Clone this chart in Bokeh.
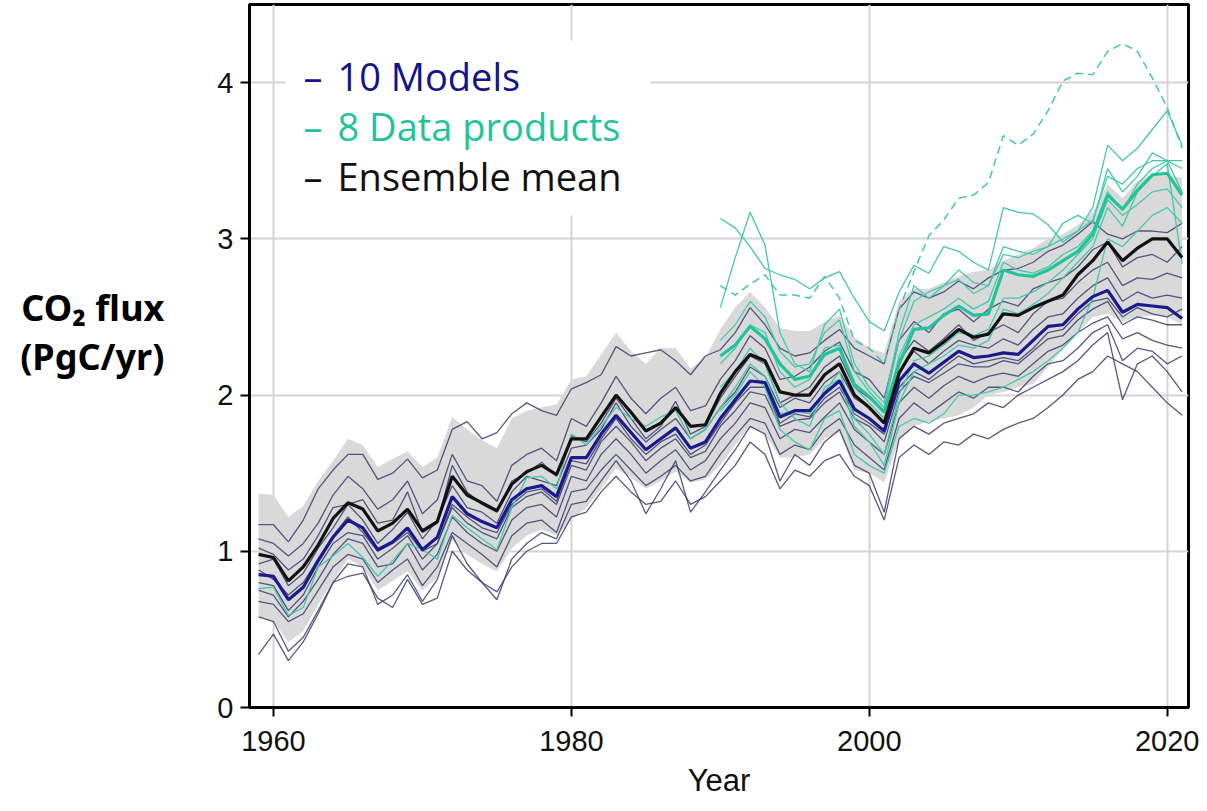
from bokeh.plotting import figure
from bokeh.models import Range1d, FixedTicker, Label, BoxAnnotation, Axis
from bokeh.embed import file_html
from bokeh.resources import INLINE

# ---------------------------------------------------------------- data
years = list(range(1959, 2022))
dp_years = list(range(1990, 2022))

ensemble_mean = [
    0.98, 0.96, 0.81, 0.90, 1.04, 1.21, 1.31, 1.27, 1.13, 1.18, 1.27,
    1.13, 1.19, 1.48, 1.36, 1.31, 1.26, 1.43, 1.51, 1.55, 1.49,
    1.72, 1.72, 1.86, 2.00, 1.89, 1.77, 1.82, 1.92, 1.80, 1.81,
    2.01, 2.15, 2.26, 2.22, 2.02, 2.00, 2.00, 2.13, 2.20, 2.00,
    1.92, 1.82, 2.14, 2.30, 2.27, 2.34, 2.42, 2.37, 2.39, 2.52,
    2.51, 2.56, 2.60, 2.64, 2.77, 2.86, 2.98, 2.86, 2.94, 3.00,
    3.00, 2.88,
]

model_mean = [
    0.85, 0.84, 0.69, 0.77, 0.94, 1.09, 1.20, 1.15, 1.01, 1.06, 1.15,
    1.01, 1.09, 1.35, 1.24, 1.19, 1.15, 1.33, 1.40, 1.42, 1.35,
    1.60, 1.60, 1.75, 1.87, 1.76, 1.65, 1.72, 1.79, 1.66, 1.70,
    1.85, 1.97, 2.09, 2.08, 1.86, 1.90, 1.90, 2.01, 2.09, 1.91,
    1.85, 1.77, 2.09, 2.20, 2.14, 2.21, 2.28, 2.24, 2.25, 2.27,
    2.26, 2.35, 2.44, 2.45, 2.55, 2.63, 2.67, 2.53, 2.58, 2.57,
    2.56, 2.49,
]

data_mean = [
    2.25, 2.32, 2.44, 2.36, 2.20, 2.10, 2.12, 2.26, 2.30, 2.07,
    1.99, 1.89, 2.20, 2.42, 2.43, 2.51, 2.57, 2.51, 2.52, 2.80,
    2.77, 2.76, 2.80, 2.86, 2.92, 3.03, 3.28, 3.19, 3.31, 3.41,
    3.42, 3.28,
]

spread_upper = [
    1.37, 1.36, 1.22, 1.29, 1.45, 1.58, 1.72, 1.68, 1.54, 1.59, 1.64,
    1.54, 1.60, 1.86, 1.78, 1.71, 1.66, 1.85, 1.90, 1.92, 1.94,
    2.10, 2.12, 2.26, 2.40, 2.28, 2.20, 2.30, 2.30, 2.17, 2.24,
    2.42, 2.56, 2.66, 2.56, 2.43, 2.41, 2.41, 2.47, 2.51, 2.37,
    2.30, 2.27, 2.60, 2.68, 2.68, 2.72, 2.76, 2.79, 2.80, 2.86,
    2.90, 2.94, 3.00, 3.03, 3.09, 3.17, 3.35, 3.26, 3.37, 3.41,
    3.41, 3.39,
]

spread_lower = [
    0.58, 0.55, 0.42, 0.49, 0.66, 0.81, 0.95, 0.90, 0.75, 0.81, 0.87,
    0.75, 0.83, 1.07, 0.98, 0.92, 0.87, 1.02, 1.10, 1.14, 1.10,
    1.20, 1.28, 1.40, 1.53, 1.47, 1.40, 1.45, 1.51, 1.44, 1.46,
    1.55, 1.68, 1.80, 1.75, 1.60, 1.60, 1.62, 1.72, 1.76, 1.52,
    1.50, 1.44, 1.71, 1.80, 1.83, 1.85, 1.87, 1.92, 2.00, 2.02,
    2.05, 2.07, 2.18, 2.30, 2.40, 2.50, 2.52, 2.47, 2.50, 2.51,
    2.50, 2.45,
]

# ten ocean biogeochemistry models, 1959-2021
model_1 = [
    1.17, 1.17, 1.06, 1.20, 1.40, 1.52, 1.62, 1.62, 1.46, 1.50, 1.59,
    1.47, 1.52, 1.78, 1.83, 1.72, 1.76, 1.88, 1.95, 1.90, 1.87,
    2.04, 2.08, 2.13, 2.31, 2.25, 2.27, 2.29, 2.22, 2.13, 2.25,
    2.29, 2.40, 2.56, 2.45, 2.30, 2.25, 2.27, 2.35, 2.42, 2.30,
    2.25, 2.20, 2.55, 2.66, 2.62, 2.66, 2.73, 2.68, 2.75, 2.80,
    2.81, 2.85, 2.92, 2.96, 3.03, 3.11, 3.03, 3.00, 3.05, 3.05,
    3.04, 3.10,
]
model_2 = [
    1.08, 1.05, 0.97, 1.05, 1.18, 1.36, 1.48, 1.40, 1.27, 1.33, 1.45,
    1.24, 1.33, 1.62, 1.45, 1.42, 1.32, 1.55, 1.62, 1.66, 1.58,
    1.85, 1.80, 1.95, 2.12, 1.98, 1.88, 1.98, 2.05, 1.90, 1.93,
    2.10, 2.22, 2.38, 2.30, 2.10, 2.12, 2.18, 2.28, 2.34, 2.15,
    2.10, 1.98, 2.35, 2.47, 2.40, 2.52, 2.55, 2.47, 2.55, 2.60,
    2.57, 2.68, 2.72, 2.75, 2.82, 2.93, 2.98, 2.82, 2.88, 2.90,
    2.85, 2.95,
]
model_3 = [
    1.02, 0.98, 0.88, 0.95, 1.10, 1.28, 1.30, 1.33, 1.18, 1.20, 1.38,
    1.12, 1.18, 1.55, 1.38, 1.30, 1.25, 1.45, 1.50, 1.57, 1.48,
    1.74, 1.70, 1.82, 1.98, 1.85, 1.72, 1.80, 1.96, 1.75, 1.80,
    1.98, 2.12, 2.25, 2.20, 1.95, 2.00, 2.05, 2.18, 2.25, 2.05,
    1.98, 1.90, 2.22, 2.35, 2.28, 2.36, 2.45, 2.35, 2.40, 2.45,
    2.40, 2.52, 2.60, 2.62, 2.72, 2.80, 2.85, 2.70, 2.75, 2.74,
    2.78, 2.75,
]
model_4 = [
    0.92, 0.95, 0.78, 0.86, 1.02, 1.15, 1.30, 1.20, 1.05, 1.14, 1.25,
    1.08, 1.20, 1.42, 1.28, 1.25, 1.18, 1.38, 1.48, 1.45, 1.42,
    1.66, 1.68, 1.78, 1.95, 1.80, 1.70, 1.78, 1.85, 1.72, 1.78,
    1.92, 2.02, 2.18, 2.12, 1.92, 1.98, 1.95, 2.08, 2.15, 1.98,
    1.92, 1.82, 2.15, 2.28, 2.20, 2.28, 2.35, 2.32, 2.30, 2.36,
    2.32, 2.42, 2.50, 2.52, 2.62, 2.70, 2.75, 2.60, 2.66, 2.62,
    2.64, 2.62,
]
model_5 = [
    0.88, 0.82, 0.72, 0.80, 0.95, 1.10, 1.22, 1.12, 1.00, 1.05, 1.12,
    1.00, 1.05, 1.30, 1.22, 1.15, 1.12, 1.30, 1.38, 1.40, 1.32,
    1.58, 1.56, 1.72, 1.85, 1.72, 1.62, 1.70, 1.75, 1.62, 1.68,
    1.82, 1.95, 2.05, 2.05, 1.82, 1.88, 1.86, 1.98, 2.05, 1.88,
    1.82, 1.75, 2.05, 2.15, 2.10, 2.18, 2.25, 2.20, 2.22, 2.24,
    2.22, 2.30, 2.40, 2.42, 2.52, 2.60, 2.62, 2.50, 2.56, 2.52,
    2.50, 2.55,
]
model_6 = [
    0.80, 0.78, 0.62, 0.72, 0.90, 1.05, 1.12, 1.10, 0.95, 1.02, 1.10,
    0.95, 1.05, 1.28, 1.18, 1.12, 1.08, 1.28, 1.35, 1.38, 1.30,
    1.55, 1.52, 1.70, 1.80, 1.70, 1.58, 1.66, 1.72, 1.60, 1.64,
    1.80, 1.90, 2.02, 2.00, 1.80, 1.84, 1.85, 1.95, 2.02, 1.85,
    1.80, 1.70, 2.02, 2.12, 2.08, 2.14, 2.20, 2.18, 2.18, 2.22,
    2.20, 2.28, 2.36, 2.38, 2.48, 2.55, 2.60, 2.45, 2.50, 2.48,
    2.45, 2.45,
]
model_7 = [
    0.75, 0.72, 0.58, 0.68, 0.82, 0.98, 1.08, 1.05, 0.90, 0.92, 1.05,
    0.88, 0.98, 1.22, 1.12, 1.05, 1.00, 1.20, 1.28, 1.30, 1.22,
    1.48, 1.45, 1.62, 1.72, 1.62, 1.50, 1.58, 1.65, 1.52, 1.58,
    1.72, 1.82, 1.95, 1.92, 1.72, 1.78, 1.76, 1.86, 1.95, 1.78,
    1.70, 1.62, 1.95, 2.05, 1.98, 2.06, 2.12, 2.08, 2.12, 2.14,
    2.12, 2.20, 2.28, 2.32, 2.40, 2.46, 2.50, 2.36, 2.40, 2.35,
    2.32, 2.30,
]
model_8 = [
    0.68, 0.66, 0.55, 0.60, 0.75, 0.90, 0.98, 0.95, 0.80, 0.88, 0.95,
    0.78, 0.90, 1.12, 1.05, 0.98, 0.90, 1.10, 1.18, 1.20, 1.12,
    1.38, 1.40, 1.52, 1.62, 1.52, 1.42, 1.48, 1.55, 1.45, 1.48,
    1.62, 1.74, 1.85, 1.82, 1.62, 1.68, 1.65, 1.78, 1.85, 1.68,
    1.60, 1.52, 1.85, 1.95, 1.88, 1.95, 2.02, 1.98, 2.05, 2.05,
    2.02, 2.12, 2.20, 2.22, 2.30, 2.40, 2.45, 2.22, 2.30, 2.28,
    2.20, 2.25,
]
model_9 = [
    0.58, 0.55, 0.36, 0.45, 0.62, 0.80, 0.92, 0.90, 0.66, 0.72, 0.85,
    0.68, 0.82, 1.10, 0.92, 0.80, 0.69, 0.95, 1.05, 1.12, 1.08,
    1.30, 1.32, 1.45, 1.58, 1.45, 1.24, 1.40, 1.58, 1.25, 1.38,
    1.52, 1.65, 1.80, 1.75, 1.45, 1.62, 1.55, 1.70, 1.78, 1.55,
    1.50, 1.25, 1.72, 1.80, 1.75, 1.82, 1.85, 1.88, 1.95, 1.92,
    2.00, 2.05, 2.10, 2.15, 2.22, 2.32, 2.40, 1.97, 2.20, 2.25,
    2.15, 2.02,
]
model_10 = [
    0.34, 0.47, 0.30, 0.42, 0.60, 0.80, 0.84, 0.86, 0.70, 0.64, 0.82,
    0.66, 0.70, 1.00, 0.88, 0.80, 0.74, 0.90, 1.00, 1.05, 1.05,
    1.22, 1.25, 1.38, 1.48, 1.38, 1.30, 1.32, 1.45, 1.30, 1.35,
    1.45, 1.55, 1.70, 1.62, 1.40, 1.52, 1.48, 1.58, 1.62, 1.48,
    1.42, 1.20, 1.60, 1.68, 1.62, 1.70, 1.68, 1.75, 1.72, 1.78,
    1.82, 1.85, 1.92, 2.00, 2.10, 2.15, 2.25, 2.20, 2.15, 2.05,
    1.95, 1.87,
]
models = [model_1, model_2, model_3, model_4, model_5,
          model_6, model_7, model_8, model_9, model_10]

# eight observation-based data products
product_1 = [  # long record, 1959-2021
    0.76, 0.77, 0.59, 0.64, 0.90, 0.97, 1.05, 0.96, 0.84, 0.94, 1.05,
    1.01, 0.95, 1.23, 1.15, 1.08, 1.01, 1.28, 1.47, 1.48, 1.40,
    1.75, 1.68, 1.80, 1.92, 1.85, 1.80, 1.86, 1.90, 1.72, 1.78,
    1.92, 2.05, 2.20, 2.12, 1.88, 1.90, 1.88, 2.02, 2.15, 1.85,
    1.75, 1.62, 2.00, 2.22, 2.25, 2.32, 2.40, 2.38, 2.42, 2.62,
    2.62, 2.66, 2.72, 2.80, 2.90, 3.00, 3.25, 3.15, 3.22, 3.30,
    3.32, 3.20,
]
product_2 = [  # drawn dashed, 1990-2021
    2.70, 2.64, 2.71, 2.77, 2.64, 2.64, 2.62, 2.76, 2.62, 2.35,
    2.30, 2.20, 2.55, 2.79, 3.02, 3.12, 3.26, 3.28, 3.36, 3.66,
    3.60, 3.67, 3.82, 4.01, 4.06, 4.05, 4.20, 4.25, 4.20, 4.03,
    3.84, 3.58,
]
product_3 = [
    3.13, 3.07, 2.95, 2.81, 2.77, 2.74, 2.68, 2.75, 2.79, 2.62,
    2.47, 2.41, 2.66, 2.83, 2.78, 2.95, 2.92, 2.85, 2.80, 3.20,
    3.17, 3.16, 3.09, 2.98, 3.05, 3.20, 3.60, 3.50, 3.58, 3.70,
    3.82, 3.60,
]
product_4 = [
    2.56, 2.88, 3.17, 2.96, 2.40, 2.20, 2.15, 2.45, 2.55, 2.20,
    2.05, 1.95, 2.40, 2.70, 2.62, 2.70, 2.80, 2.72, 2.70, 2.90,
    2.88, 2.92, 2.95, 3.10, 3.15, 3.10, 3.45, 3.30, 3.40, 3.55,
    3.50, 3.45,
]
product_5 = [
    2.20, 2.30, 2.45, 2.40, 2.15, 2.05, 2.10, 2.30, 2.32, 2.05,
    1.95, 1.85, 2.25, 2.45, 2.50, 2.55, 2.62, 2.55, 2.60, 2.85,
    2.80, 2.78, 2.82, 2.90, 2.95, 3.05, 3.30, 3.18, 3.35, 3.45,
    3.50, 3.30,
]
product_6 = [
    1.90, 2.00, 2.15, 2.05, 1.78, 1.70, 1.65, 1.85, 1.90, 1.62,
    1.55, 1.50, 1.80, 1.85, 1.82, 1.88, 2.00, 2.00, 2.02, 2.05,
    2.10, 2.15, 2.22, 2.30, 2.40, 2.62, 3.00, 2.95, 3.05, 3.15,
    3.20, 3.10,
]
product_7 = [
    2.05, 2.15, 2.30, 2.20, 1.95, 1.85, 1.80, 2.05, 2.10, 1.80,
    1.70, 1.55, 1.95, 2.15, 2.20, 2.25, 2.32, 2.30, 2.35, 2.55,
    2.52, 2.58, 2.65, 2.75, 2.85, 2.95, 3.20, 3.08, 3.30, 3.40,
    3.48, 2.84,
]
product_8 = [
    2.35, 2.45, 2.60, 2.50, 2.28, 2.18, 2.20, 2.40, 2.48, 2.15,
    2.02, 1.92, 2.35, 2.60, 2.66, 2.70, 2.74, 2.65, 2.70, 2.95,
    2.92, 2.90, 2.95, 3.00, 3.05, 3.12, 3.40, 3.35, 3.45, 3.50,
    3.50, 3.50,
]
short_products = [product_3, product_4, product_5, product_6, product_7, product_8]

x_ticks = [1960, 1980, 2000, 2020]
y_ticks = [0, 1, 2, 3, 4]

# ---------------------------------------------------------------- colours
MODEL_THIN = "#3b3b6d"
MODEL_MEAN = "#1a1a8c"
DATA_THIN = "#45c8aa"
DATA_MEAN = "#1fc49b"
SPREAD = "#d9d9d9"
GRID = "#d4d4d4"

# ---------------------------------------------------------------- figure
p = figure(
    width=1207, height=811,
    x_range=Range1d(1958.39, 2021.43),
    y_range=Range1d(0, 4.5),
    output_backend="svg", toolbar_location=None,
    min_border_left=249, min_border_right=19,
    min_border_top=4, min_border_bottom=104,
)
p.background_fill_color = "white"
p.border_fill_color = "white"
p.outline_line_color = "black"
p.outline_line_width = 3

p.xaxis.ticker = FixedTicker(ticks=x_ticks)
p.yaxis.ticker = FixedTicker(ticks=y_ticks)
for ax in (p.xaxis, p.yaxis):
    ax.axis_line_width = 3
    ax.axis_line_color = "black"
    ax.major_tick_line_width = 2
    ax.major_tick_line_color = "black"
    ax.major_tick_out = 9
    ax.major_tick_in = 0
    ax.minor_tick_line_color = None
    ax.major_label_text_font = "Liberation Sans"
    ax.major_label_text_font_size = "29px"
    ax.major_label_text_color = "#111111"
p.xaxis.major_label_standoff = 14
p.yaxis.major_label_standoff = 7
p.xaxis.axis_label = "Year"
p.xaxis.axis_label_text_font = "Liberation Sans"
p.xaxis.axis_label_text_font_size = "31px"
p.xaxis.axis_label_text_font_style = "normal"
p.xaxis.axis_label_text_color = "#111111"
p.xaxis.axis_label_standoff = 9

# y-axis title, two bold lines written horizontally (a blank third line
# lifts the pair a little above the frame's middle)
p.yaxis.axis_label = "CO\u2082 flux\n(PgC/yr)\n "
p.yaxis.axis_label_text_font = "Noto Sans"
p.yaxis.axis_label_text_font_size = "36px"
p.yaxis.axis_label_text_font_style = "bold"
p.yaxis.axis_label_text_color = "black"
p.yaxis.axis_label_text_line_height = 1.0
p.yaxis.axis_label_standoff = 50
if "axis_label_orientation" in Axis.properties():
    p.yaxis.axis_label_orientation = "horizontal"

p.xgrid.grid_line_color = GRID
p.ygrid.grid_line_color = GRID
p.xgrid.grid_line_width = 2
p.ygrid.grid_line_width = 2

# model spread
p.varea(x=years, y1=spread_lower, y2=spread_upper, fill_color=SPREAD, fill_alpha=1.0)

# individual models
for series in models:
    p.line(years, series, line_color=MODEL_THIN, line_width=1.3, line_alpha=0.85)

# individual data products
p.line(years, product_1, line_color=DATA_THIN, line_width=1.3)
for series in short_products:
    p.line(dp_years, series, line_color=DATA_THIN, line_width=1.3)
p.line(dp_years, product_2, line_color=DATA_THIN, line_width=1.5, line_dash="8 5")

# means
p.line(years, model_mean, line_color=MODEL_MEAN, line_width=3.2)
p.line(dp_years, data_mean, line_color=DATA_MEAN, line_width=3.2)
p.line(years, ensemble_mean, line_color="#111111", line_width=3.2)

# ---------------------------------------------------------------- legend
p.add_layout(BoxAnnotation(
    left=36, right=401, bottom=492, top=667,
    left_units="screen", right_units="screen",
    bottom_units="screen", top_units="screen",
    fill_color="white", fill_alpha=1.0, line_color=None, level="underlay",
))

LEGEND_FONT = "Open Sans"
LEGEND_SIZE = "38px"
legend_rows = [
    ("10 Models", "#13138a", 632),
    ("8 Data products", "#1fc49b", 582),
    ("Ensemble mean", "#111111", 532),
]
for text, color, fy in legend_rows:
    p.add_layout(Label(x=54, y=fy, x_units="screen", y_units="screen", text="\u2013",
                       text_color=color, text_font=LEGEND_FONT, text_font_size=LEGEND_SIZE,
                       text_baseline="alphabetic"))
    p.add_layout(Label(x=88, y=fy, x_units="screen", y_units="screen", text=text,
                       text_color=color, text_font=LEGEND_FONT, text_font_size=LEGEND_SIZE,
                       text_baseline="alphabetic"))

open("out.html", "w").write(file_html(p, INLINE))
